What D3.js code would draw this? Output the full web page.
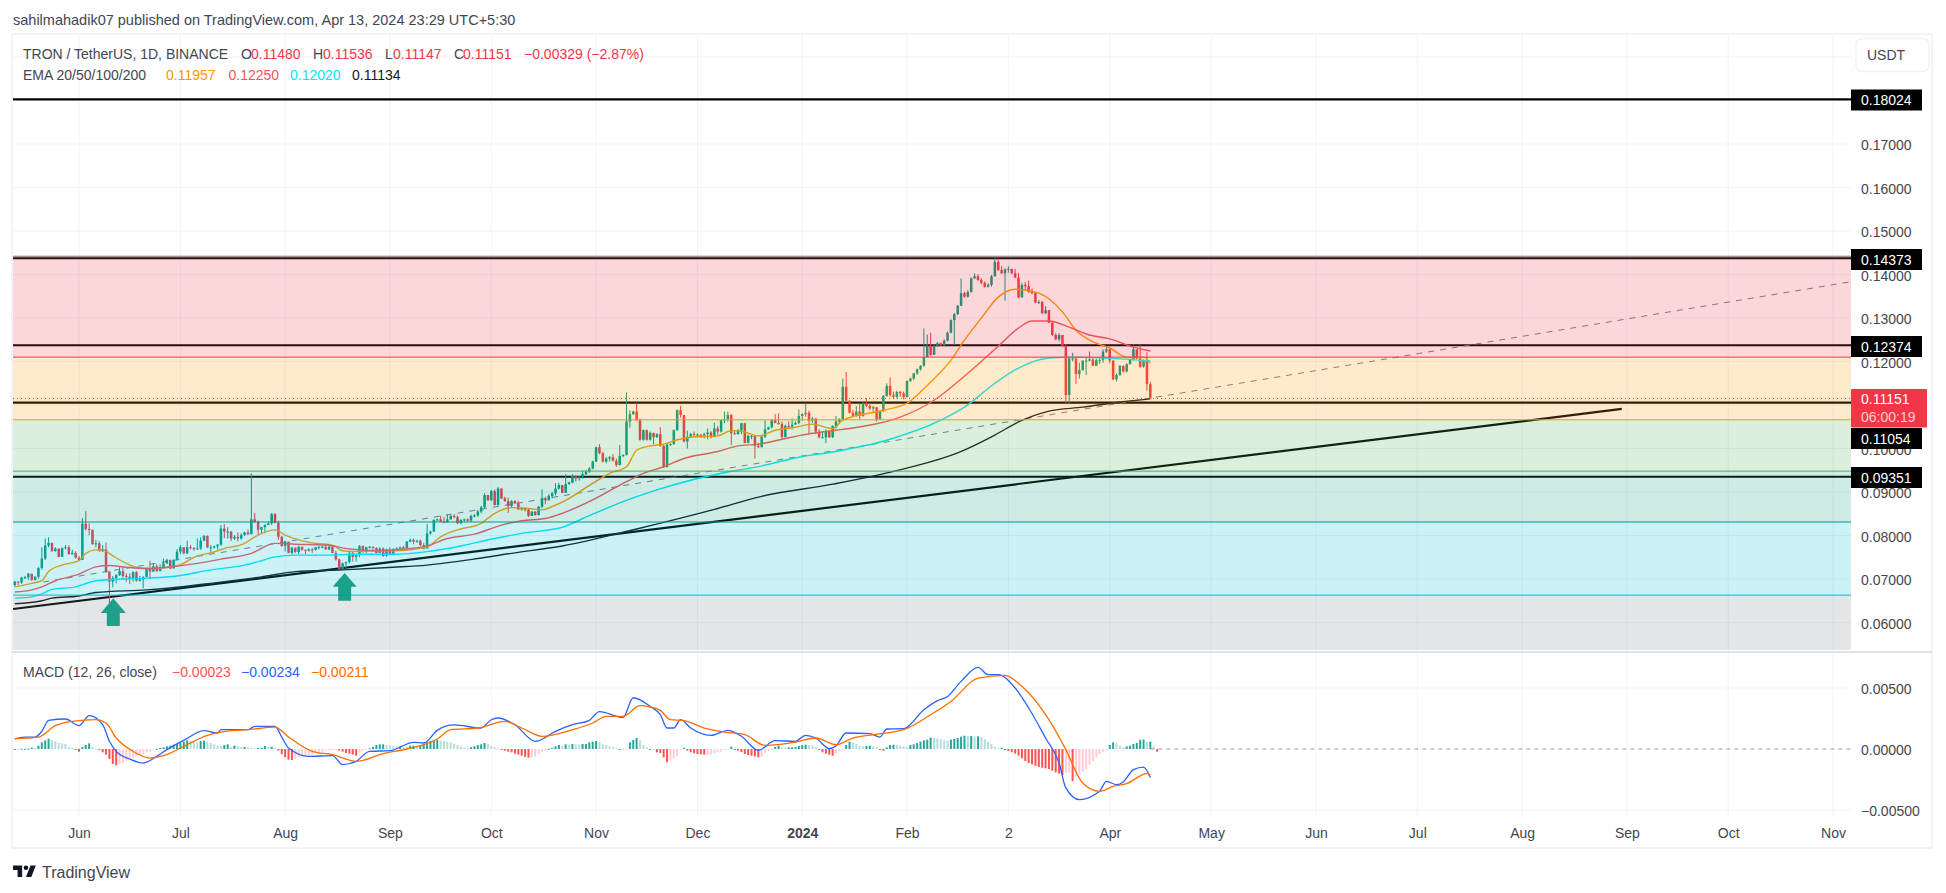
<!DOCTYPE html>
<html>
<head>
<meta charset="utf-8">
<script src="https://cdn.jsdelivr.net/npm/d3@7"></script>
<style>
  html, body { margin: 0; background: #fff; }
  text { font-family: "Liberation Sans", Arial, sans-serif; }
</style>
</head>
<body>
<svg id="chart" width="1946" height="893"></svg>
<script>
const width = 1946, height = 893;
const left = 13, right = 1851;
const mainTop = 35, mainBottom = 651, macdTop = 653, macdBottom = 816;

const green = '#089981', red = '#f23645';

// daily bars, [close, high, low] in 1/100 USDT, first bar is 13 May 2023
// binance opens each day at the previous close
const firstOpen = 6.86;
const bars = [
[6.94,6.96,6.82],[6.92,6.95,6.86],[7.03,7.05,6.89],[7.04,7.07,7.0],[7.12,7.14,6.98],[6.98,7.12,6.96],[7.05,7.07,6.96],[7.25,7.27,7.01],
[7.47,7.73,7.21],[7.77,7.93,7.44],[7.83,7.96,7.73],[7.64,7.84,7.63],[7.7,7.73,7.63],[7.51,7.7,7.5],[7.71,7.73,7.5],[7.73,7.78,7.68],
[7.57,7.78,7.56],[7.6,7.67,7.56],[7.49,7.64,7.47],[7.44,7.53,7.42],[8.27,8.4,7.44],[8.15,8.56,8.11],[8.13,8.28,8.01],[7.8,8.14,7.79],
[7.82,7.9,7.73],[7.64,7.87,7.63],[7.68,7.78,7.62],[7.17,7.84,7.14],[6.94,7.17,6.43],[7.02,7.07,6.81],[7.09,7.11,6.9],[7.18,7.28,7.07],
[7.07,7.27,7.0],[7.05,7.13,6.94],[7.01,7.13,6.89],[7.16,7.18,6.94],[6.96,7.18,6.94],[6.99,7.07,6.94],[7.05,7.06,6.79],[7.24,7.26,7.04],
[7.17,7.42,7.01],[7.29,7.36,7.17],[7.18,7.34,7.17],[7.27,7.34,7.18],[7.36,7.47,7.26],[7.44,7.47,7.35],[7.24,7.44,7.23],[7.44,7.45,7.32],
[7.63,7.69,7.42],[7.73,7.78,7.57],[7.59,7.73,7.57],[7.73,7.88,7.57],[7.71,7.78,7.68],[7.7,7.73,7.65],[7.7,7.93,7.67],[7.88,7.96,7.67],
[7.99,8.01,7.87],[7.73,8.0,7.71],[7.73,7.78,7.6],[7.75,7.77,7.7],[7.79,7.8,7.68],[8.16,8.24,7.76],[8.09,8.26,7.94],[8.09,8.19,7.93],
[7.93,8.1,7.87],[7.97,8.01,7.9],[7.93,8.07,7.86],[8.01,8.05,7.9],[8.07,8.09,7.99],[8.03,8.14,8.01],[8.37,9.43,8.03],[8.32,8.52,8.29],
[8.13,8.34,8.01],[8.19,8.2,8.05],[8.24,8.26,8.05],[8.28,8.32,8.24],
[8.49,8.52,8.24],[8.29,8.52,8.28],[7.97,8.34,7.9],[7.76,7.99,7.74],[7.86,7.87,7.63],[7.6,7.85,7.59],[7.72,7.74,7.57],[7.62,7.72,7.6],
[7.74,7.76,7.57],[7.67,7.74,7.65],[7.65,7.68,7.57],[7.68,7.71,7.63],[7.67,7.72,7.6],[7.73,7.74,7.65],[7.74,7.76,7.68],[7.74,7.77,7.71],
[7.68,7.77,7.67],[7.74,7.78,7.67],[7.6,7.76,7.59],[7.45,7.65,7.42],[7.22,7.47,7.21],[7.36,7.38,7.21],[7.39,7.4,7.25],[7.59,7.65,7.36],
[7.51,7.63,7.4],[7.55,7.57,7.4],[7.76,7.78,7.5],[7.62,7.77,7.6],[7.73,7.74,7.6],[7.74,7.76,7.7],[7.71,7.75,7.67],[7.6,7.73,7.59],
[7.7,7.73,7.63],[7.53,7.73,7.51],[7.68,7.7,7.51],[7.57,7.73,7.56],[7.68,7.71,7.56],[7.7,7.73,7.65],[7.73,7.74,7.67],[7.7,7.76,7.68],
[7.86,7.87,7.7],[7.9,7.93,7.85],[7.86,7.93,7.8],[7.88,7.9,7.83],[7.78,7.91,7.76],[7.7,7.83,7.68],[8.05,8.26,7.73],[8.09,8.11,8.02],
[8.36,8.37,8.08],[8.37,8.39,8.33],[8.32,8.45,8.31],[8.3,8.42,8.28],[8.37,8.48,8.3],[8.45,8.47,8.37],[8.42,8.49,8.4],[8.28,8.46,8.26],
[8.36,8.37,8.26],[8.37,8.39,8.31],[8.34,8.39,8.32],[8.45,8.48,8.31],[8.46,8.49,8.42],[8.55,8.59,8.43],[8.65,8.68,8.51],[8.93,8.97,8.63],
[8.81,8.93,8.8],[9.02,9.05,8.8],[8.7,9.06,8.69],[9.08,9.11,8.69],[8.85,9.08,8.84],[8.79,8.89,8.78],[8.68,8.87,8.52],[8.79,8.81,8.65],
[8.74,8.81,8.72],[8.6,8.8,8.59],[8.63,8.66,8.57],[8.59,8.65,8.55],[8.45,8.62,8.43],[8.55,8.56,8.45],[8.47,8.56,8.46],[8.66,8.68,8.46],
[8.85,9.06,8.63],[8.81,8.89,8.72],[8.91,8.95,8.81],[8.97,9.0,8.85],[9.08,9.2,8.92],[9.16,9.21,9.06],
[8.98,9.16,8.97],[9.18,9.41,8.98],[9.22,9.24,9.17],[9.37,9.41,9.2],[9.31,9.39,9.24],[9.35,9.37,9.26],[9.41,9.49,9.31],[9.47,9.5,9.39],
[9.54,9.57,9.44],[9.7,9.72,9.52],[10.03,10.04,9.69],[9.89,10.1,9.87],[9.7,9.92,9.68],[9.77,9.8,9.66],[9.8,9.83,9.7],[9.72,9.87,9.7],
[9.62,9.77,9.58],[9.83,10.08,9.61],[9.85,9.87,9.8],[10.62,11.29,9.84],[10.79,10.88,10.48],[10.85,10.87,10.77],[10.65,11.04,10.64],[10.2,10.69,10.18],
[10.42,10.44,10.18],[10.2,10.44,10.18],[10.36,10.39,10.18],[10.26,10.36,10.1],[10.33,10.35,10.24],[10.06,10.49,10.04],[9.57,10.08,9.55],[10.09,10.12,9.57],
[10.1,10.12,10.06],[10.42,10.44,10.09],[10.88,10.9,10.41],[10.77,10.98,10.71],[10.16,10.77,10.14],[10.27,10.41,10.0],[10.33,10.36,10.26],[10.31,10.39,10.29],
[10.32,10.35,10.26],[10.3,10.33,10.24],[10.33,10.36,10.23],[10.37,10.46,10.21],[10.26,10.4,10.23],[10.46,10.59,10.33],[10.39,10.52,10.31],[10.65,10.67,10.37],
[10.67,10.85,10.58],[10.77,10.85,10.62],[10.35,10.79,10.08],[10.33,10.42,10.32],[10.42,10.45,10.32],[10.58,10.59,10.33],[10.13,10.59,10.12],[10.29,10.32,10.12],
[10.29,10.31,10.21],[10.06,10.21,9.77],[10.03,10.13,10.01],[10.27,10.29,10.03],[10.44,10.65,10.24],[10.49,10.5,10.43],[10.65,10.68,10.46],[10.59,10.79,10.58],
[10.56,10.81,10.55],[10.26,10.62,10.23],[10.52,10.55,10.26],[10.5,10.62,10.44],[10.55,10.69,10.44],[10.59,10.62,10.56],[10.75,10.9,10.56],[10.79,10.81,10.64],
[10.82,11.04,10.73],[10.64,10.87,10.33],[10.69,10.73,10.59],[10.39,10.69,10.33],[10.26,10.44,10.23],[10.26,10.39,10.23],[10.4,10.44,10.12],[10.26,10.42,10.24],
[10.52,10.53,10.24],[10.62,10.75,10.46],[10.67,10.7,10.58],[11.42,11.61,10.64],[11.1,11.76,11.08],
[10.82,11.1,10.81],[10.75,10.89,10.72],[10.85,10.98,10.73],[10.75,11.02,10.67],[11.04,11.06,10.73],[10.98,11.16,10.95],[10.92,11.05,10.88],[10.95,10.98,10.82],
[10.67,10.95,10.62],[10.86,10.88,10.67],[11.21,11.23,10.84],[11.44,11.5,11.19],[11.23,11.63,11.19],[11.19,11.31,11.15],[11.3,11.33,11.15],[11.27,11.32,11.19],
[11.18,11.31,11.13],[11.55,11.57,11.18],[11.61,11.63,11.53],[11.73,11.74,11.57],[11.82,11.84,11.69],[11.9,11.92,11.79],
[12.1,12.76,11.88],[12.36,12.62,12.1],[12.15,12.66,12.13],[12.36,12.38,12.15],[12.42,12.45,12.33],[12.37,12.43,12.36],[12.48,12.51,12.36],[12.66,12.69,12.46],
[12.95,12.97,12.65],[13.09,13.11,12.38],[13.28,13.3,13.07],[13.57,13.91,13.28],[13.49,13.6,13.47],[13.6,13.64,13.47],[13.91,13.93,13.58],[13.96,14.03,13.9],
[13.87,14.01,13.86],[13.81,13.91,13.78],[13.72,13.84,13.7],[13.76,13.8,13.7],[13.96,13.99,13.72],[14.29,14.39,13.95],[14.1,14.37,14.09],[14.03,14.19,14.01],
[14.12,14.14,13.4],[14.13,14.19,14.04],[14.03,14.12,14.01],[13.93,14.13,13.92],[13.47,14.03,13.45],[13.76,13.81,13.53],[13.73,13.83,13.64],[13.6,13.86,13.58],
[13.57,13.68,13.55],[13.35,13.6,13.34],[13.37,13.41,13.32],[13.11,13.39,13.09],[13.18,13.27,13.09],[12.89,13.18,12.88],[12.61,12.91,12.59],[12.51,12.65,12.49],
[12.61,12.65,12.46],[12.36,12.61,12.33],[11.23,12.4,11.04],[12.07,12.11,11.04],
[12.07,12.2,12.0],[11.71,12.07,11.48],[11.8,11.97,11.61],[12.02,12.03,11.79],[12.02,12.09,11.69],[12.05,12.23,12.0],[11.9,12.07,11.9],[12.03,12.06,11.9],
[12.03,12.07,11.94],[12.23,12.28,11.97],[12.28,12.34,12.2],[12.02,12.3,11.96],[11.59,12.03,11.57],[11.69,11.73,11.54],[11.9,11.92,11.67],[11.77,11.91,11.75],
[11.94,11.96,11.75],[12.05,12.07,11.93],[12.28,12.38,12.02],[12.07,12.28,12.05],[11.88,12.38,11.86],[12.02,12.05,11.86],[11.48,12.21,11.33],[11.151,11.536,11.147]
];

// EMAs, [days from 1 Jun 2023, price in 1/100 USDT]
const ema20 = [[-19,6.82],[-14,6.9],[-11,6.96],[-9,7.17],[-5,7.32],[0,7.42],[2,7.59],[5,7.67],[7,7.67],[10,7.53],[14,7.36],[17,7.27],[21,7.24],[29,7.3],[35,7.53],[39,7.6],[43,7.7],[49,7.82],[52,7.97],[58,8.13],[61,8.01],[65,7.9],[70,7.82],[75,7.78],[78,7.65],[82,7.63],[88,7.65],[93,7.65],[103,7.74],[107,7.97],[112,8.13],[119,8.28],[123,8.51],[128,8.64],[133,8.62],[137,8.59],[141,8.7],[144,8.81],[152,9.2],[157,9.43],[162,9.58],[165,9.96],[169,10.06],[173,10.1],[177,10.2],[181,10.26],[189,10.29],[193,10.41],[197,10.38],[201,10.29],[206,10.42],[212,10.49],[217,10.56],[223,10.46],[226,10.65],[238,10.88],[245,11.04],[251,11.45],[258,12.03],[262,12.49],[267,13.0],[272,13.48],[277,13.66],[284,13.57],[291,13.14],[295,12.72],[301,12.42],[305,12.31],[310,12.1],[315,12.1],[317,11.96]];
const ema50 = [[-19,6.7],[-14,6.75],[-11,6.82],[-7,6.96],[0,7.11],[5,7.28],[9,7.31],[14,7.27],[20,7.24],[27,7.28],[35,7.36],[43,7.47],[51,7.59],[58,7.82],[64,7.8],[73,7.78],[80,7.69],[88,7.65],[98,7.7],[103,7.76],[109,7.93],[117,8.03],[125,8.24],[131,8.34],[138,8.39],[143,8.51],[152,8.82],[162,9.24],[167,9.43],[173,9.58],[179,9.77],[189,9.93],[195,10.06],[201,10.1],[209,10.23],[217,10.35],[224,10.42],[228,10.46],[243,10.72],[253,11.11],[263,11.73],[272,12.35],[278,12.77],[282,12.93],[287,12.93],[292,12.82],[299,12.61],[305,12.52],[312,12.33],[317,12.24]];
const ema100 = [[-19,6.56],[-14,6.59],[-11,6.66],[-8,6.76],[-1,6.82],[5,6.96],[10,6.99],[20,7.02],[29,7.07],[39,7.21],[49,7.32],[54,7.42],[58,7.51],[64,7.55],[73,7.55],[83,7.57],[93,7.57],[103,7.63],[113,7.76],[123,7.93],[131,8.05],[143,8.19],[150,8.42],[160,8.75],[171,9.05],[181,9.27],[192,9.46],[202,9.6],[213,9.8],[223,9.92],[239,10.19],[255,10.65],[262,10.95],[271,11.5],[278,11.85],[287,12.08],[295,12.1],[308,12.06],[317,12.01]];
const ema200 = [[-19,6.43],[-11,6.5],[-8,6.56],[0,6.61],[5,6.69],[20,6.75],[29,6.81],[39,6.9],[54,7.05],[64,7.17],[78,7.21],[93,7.27],[103,7.32],[118,7.47],[128,7.59],[143,7.76],[165,8.15],[188,8.6],[202,8.9],[223,9.18],[245,9.55],[260,9.9],[271,10.31],[278,10.61],[287,10.86],[297,10.95],[308,11.07],[317,11.14]];

// MACD lines, [days from 1 Jun 2023, value in 1e-5]
const macdLine = [[-19,82],[-16,98],[-13,98],[-11,145],[-9,235],[-4,246],[0,191],[3,273],[7,199],[9,63],[11,-19],[15,-82],[19,-115],[23,-60],[26,-5],[31,71],[37,150],[41,131],[42,158],[50,158],[52,186],[58,186],[60,98],[62,8],[68,-60],[75,-55],[78,-128],[82,-101],[86,-19],[92,-14],[99,55],[102,49],[106,153],[111,197],[119,172],[122,240],[124,254],[129,199],[135,63],[141,145],[146,199],[151,235],[154,306],[161,259],[164,420],[169,349],[172,281],[174,172],[176,172],[178,240],[181,172],[187,112],[192,153],[196,104],[201,-11],[206,68],[212,63],[215,112],[218,90],[222,3],[224,27],[227,131],[234,126],[237,98],[239,164],[244,166],[250,322],[254,396],[257,431],[261,554],[266,669],[269,609],[272,609],[277,500],[281,336],[286,90],[290,-115],[292,-319],[296,-415],[302,-347],[304,-265],[307,-292],[309,-270],[312,-169],[315,-148],[317,-234]];
const macdSignal = [[-19,85],[-12,98],[-7,191],[-2,227],[5,240],[8,213],[11,90],[16,-19],[21,-74],[25,-55],[31,22],[38,112],[45,150],[50,158],[58,180],[62,98],[69,-19],[75,-46],[82,-101],[90,-38],[97,0],[106,82],[110,158],[118,172],[126,227],[131,172],[137,104],[146,158],[152,213],[156,268],[161,268],[166,355],[169,344],[172,317],[175,240],[179,232],[185,172],[191,139],[197,117],[203,30],[212,57],[218,90],[224,35],[229,90],[235,117],[244,158],[252,281],[258,390],[266,581],[274,604],[279,514],[287,240],[292,-5],[297,-279],[302,-347],[306,-306],[310,-284],[316,-202],[317,-211]];

const histUnit = 2.73e-5;
const macdHist = [
-1,-1,1,1,1,4,3,10,20,26,31,28,24,19,17,15,6,3,-2,-8,
6,12,17,7,1,-2,-10,-17,-30,-45,-49,-47,-42,-35,-30,-26,-22,-18,-14,-10,-7,-3,1,3,5,8,10,13,15,18,22,26,24,22,20,24,25,22,18,14,10,9,12,14,6,10,8,6,6,5,4,3,3,3,9,7,7,3,
-5,-15,-25,-32,-33,-30,-25,-22,-20,-18,-16,-12,-10,-8,-6,-4,-3,-3,-5,-8,-12,-14,-17,-20,-10,-5,-3,2,6,12,14,14,12,10,9,8,8,7,6,10,10,8,12,15,20,24,25,27,25,24,22,20,16,12,8,4,3,5,8,12,14,18,15,10,5,1,
-2,-5,-8,-10,-14,-17,-20,-24,-26,-26,-24,-15,-8,-4,1,3,8,12,10,14,13,15,14,13,15,15,20,22,24,20,14,12,8,5,3,-3,-2,-2,20,27,33,26,12,5,-3,
-3,-10,-12,-25,-40,-35,-28,-22,-3,4,-5,-10,-13,-15,-16,-17,-17,-16,-13,-10,-8,-4,-2,7,-3,-5,-9,-15,-18,-20,-22,-25,-24,-12,-7,-3,6,10,5,4,5,5,6,9,12,13,12,10,7,-2,-10,-14,-17,-20,-14,-7,-3,12,22,20,15,10,8,9,10,8,5,-3,-5,5,12,13,12,10,8,6,12,14,18,22,26,28,34,33,32,29,26,25,28,30,33,37,40,39,39,38,38,36,30,22,15,7,3,4,-1,
-6,-10,-14,-20,-28,-36,-42,-46,-50,-54,-56,-58,-60,-65,-70,-74,-78,-72,-70,-97,-82,-75,-68,-60,-48,-36,-25,-15,-8,-3,12,20,18,10,5,8,10,15,18,28,28,22,22,8,-8
];

const fibZones = [
  { top: 0.1442, bottom: 0.1210, fill: '#f23645', line: '#787b86' },
  { top: 0.1210, bottom: 0.1066, fill: '#ff9800', line: '#f23645' },
  { top: 0.1066, bottom: 0.0948, fill: '#4caf50', line: '#ff9800' },
  { top: 0.0948, bottom: 0.0831, fill: '#089981', line: '#4caf50' },
  { top: 0.0831, bottom: 0.0663, fill: '#00bcd4', line: '#089981' },
  { top: 0.0663, bottom: 0.0537, fill: '#787b86', line: '#00bcd4' }
];
const levels = [0.18024, 0.14373, 0.12374, 0.11054, 0.09351];

const day0 = Date.UTC(2023, 5, 1);
const dayMs = 86400000;
const dayToDate = d => new Date(day0 + d * dayMs);

const x = d3.scaleUtc().domain([dayToDate(0), new Date(Date.UTC(2024, 10, 1))]).range([79, 1833]);
const y = d3.scaleLinear().domain([0.17, 0.06]).range([144, 622.5]);
const yMacd = d3.scaleLinear().domain([0.005, -0.005]).range([688, 810]);

const svg = d3.select('#chart');

const defs = svg.append('defs');
defs.append('clipPath').attr('id', 'mainClip').append('rect')
  .attr('x', left).attr('y', mainTop).attr('width', right - left).attr('height', mainBottom - mainTop);

// Rahmen
svg.append('rect').attr('x', 12).attr('y', 34).attr('width', 1920).attr('height', 814)
  .attr('fill', 'none').attr('stroke', '#f0f3fa').attr('stroke-width', 2);
svg.append('line').attr('x1', 12).attr('x2', 1932).attr('y1', 652).attr('y2', 652)
  .attr('stroke', '#e0e3eb').attr('stroke-width', 2);

// Grid
const gridColor = '#f0f3fa';
const priceTicks = d3.range(6, 20).map(v => v / 100);
const macdTicks = [0.005, 0, -0.005];
const timeTicks = [
  { d: 0, label: 'Jun' }, { d: 30, label: 'Jul' }, { d: 61, label: 'Aug' }, { d: 92, label: 'Sep' },
  { d: 122, label: 'Oct' }, { d: 153, label: 'Nov' }, { d: 183, label: 'Dec' }, { d: 214, label: '2024', bold: true },
  { d: 245, label: 'Feb' }, { d: 275, label: '2' }, { d: 305, label: 'Apr' }, { d: 335, label: 'May' },
  { d: 366, label: 'Jun' }, { d: 396, label: 'Jul' }, { d: 427, label: 'Aug' }, { d: 458, label: 'Sep' },
  { d: 488, label: 'Oct' }, { d: 519, label: 'Nov' }
];

const grid = svg.append('g');
priceTicks.forEach(p => {
  grid.append('line').attr('x1', left).attr('x2', right).attr('y1', y(p)).attr('y2', y(p)).attr('stroke', gridColor);
});
macdTicks.forEach(v => {
  if (v === 0) return;
  grid.append('line').attr('x1', left).attr('x2', right).attr('y1', yMacd(v)).attr('y2', yMacd(v)).attr('stroke', gridColor);
});
timeTicks.forEach(t => {
  const px = x(dayToDate(t.d));
  grid.append('line').attr('x1', px).attr('x2', px).attr('y1', mainTop).attr('y2', mainBottom).attr('stroke', gridColor);
  grid.append('line').attr('x1', px).attr('x2', px).attr('y1', macdTop).attr('y2', macdBottom).attr('stroke', gridColor);
});

const main = svg.append('g').attr('clip-path', 'url(#mainClip)');

// Levels und Trendlinien
levels.forEach(p => {
  main.append('line').attr('x1', left).attr('x2', right).attr('y1', y(p)).attr('y2', y(p))
    .attr('stroke', '#000').attr('stroke-width', 2.2);
});

main.append('line')
  .attr('x1', x(dayToDate(-19.5))).attr('y1', y(0.0631))
  .attr('x2', x(dayToDate(456.5))).attr('y2', y(0.1091))
  .attr('stroke', '#000').attr('stroke-width', 2.2);

main.append('line')
  .attr('x1', x(dayToDate(-10.6))).attr('y1', y(0.0693))
  .attr('x2', x(dayToDate(524))).attr('y2', y(0.1383))
  .attr('stroke', '#787b86').attr('stroke-width', 1).attr('stroke-dasharray', '6,6');

// Kerzen
let prevClose = firstOpen;
const candles = bars.map((b, i) => {
  const row = { d: i - 19, open: prevClose / 100, close: b[0] / 100, high: b[1] / 100, low: b[2] / 100 };
  prevClose = b[0];
  return row;
});

const candleG = main.append('g');
candles.forEach(c => {
  const px = x(dayToDate(c.d));
  const color = c.close >= c.open ? green : red;
  candleG.append('rect').attr('x', px - 0.5).attr('width', 1)
    .attr('y', y(c.high)).attr('height', y(c.low) - y(c.high)).attr('fill', color);
  candleG.append('rect').attr('x', px - 1.25).attr('width', 2.5)
    .attr('y', y(Math.max(c.open, c.close)))
    .attr('height', Math.max(1, Math.abs(y(c.open) - y(c.close))))
    .attr('fill', color);
});

// EMA Linien
const emaLine = d3.line()
  .x(p => x(dayToDate(p[0])))
  .y(p => y(p[1] / 100))
  .curve(d3.curveMonotoneX);

[[ema20, '#ff9800'], [ema50, '#f7525f'], [ema100, '#00e5ff'], [ema200, '#131722']].forEach(([data, color]) => {
  main.append('path').attr('d', emaLine(data)).attr('fill', 'none').attr('stroke', color).attr('stroke-width', 1.4);
});

// Fib-Zonen liegen halbtransparent ueber allem
fibZones.forEach(z => {
  main.append('rect').attr('x', left).attr('width', right - left)
    .attr('y', y(z.top)).attr('height', y(z.bottom) - y(z.top))
    .attr('fill', z.fill).attr('fill-opacity', 0.2);
  main.append('line').attr('x1', left).attr('x2', right).attr('y1', y(z.top)).attr('y2', y(z.top))
    .attr('stroke', z.line).attr('stroke-width', 1);
});

// aktueller Kurs
main.append('line').attr('x1', left).attr('x2', right).attr('y1', y(0.11151)).attr('y2', y(0.11151))
  .attr('stroke', red).attr('stroke-width', 1).attr('stroke-dasharray', '1,3');

// Pfeile
const arrows = [
  { d: 10.15, tip: 0.0656, head: 0.0622, foot: 0.0592, color: '#089981', half: 12.5, stem: 6.5 },
  { d: 78.6, tip: 0.0714, head: 0.0682, foot: 0.0650, color: '#089981', half: 12, stem: 6.5 }
];
arrows.forEach(a => {
  const px = x(dayToDate(a.d));
  const pts = [
    [px, y(a.tip)], [px + a.half, y(a.head)], [px + a.stem, y(a.head)], [px + a.stem, y(a.foot)],
    [px - a.stem, y(a.foot)], [px - a.stem, y(a.head)], [px - a.half, y(a.head)]
  ];
  main.append('polygon').attr('points', pts.map(p => p.join(',')).join(' '))
    .attr('fill', a.color).attr('fill-opacity', 0.9);
});

// MACD
const histBars = svg.append('g');
macdHist.forEach((h, i) => {
  const v = h * histUnit;
  const prev = i > 0 ? macdHist[i - 1] * histUnit : 0;
  let color;
  if (v >= 0) color = v >= prev ? '#26a69a' : '#b2dfdb';
  else color = v < prev ? '#ff5252' : '#ffcdd2';
  const px = x(dayToDate(i - 19));
  histBars.append('rect').attr('x', px - 1).attr('width', 2)
    .attr('y', Math.min(yMacd(v), yMacd(0)))
    .attr('height', Math.max(1, Math.abs(yMacd(v) - yMacd(0))))
    .attr('fill', color);
});

svg.append('line')
  .attr('x1', x(dayToDate(317))).attr('x2', right).attr('y1', yMacd(0)).attr('y2', yMacd(0))
  .attr('stroke', '#9598a1').attr('stroke-dasharray', '4,4');

const macdPath = d3.line()
  .x(p => x(dayToDate(p[0])))
  .y(p => yMacd(p[1] / 100000))
  .curve(d3.curveMonotoneX);
svg.append('path').attr('d', macdPath(macdLine)).attr('fill', 'none').attr('stroke', '#2962ff').attr('stroke-width', 1.3);
svg.append('path').attr('d', macdPath(macdSignal)).attr('fill', 'none').attr('stroke', '#ff6d00').attr('stroke-width', 1.3);

// Achsen
const textColor = '#434651';
const fmt = v => d3.format('.5f')(v).replace('-', '\u2212');

// 0.11 liegt im Original ganz hinter dem roten Label, also keine Beschriftung
const yLabels = [0.06, 0.07, 0.08, 0.09, 0.10, 0.12, 0.13, 0.14, 0.15, 0.16, 0.17];
const yAxis = d3.axisRight(y).tickValues(yLabels).tickSize(0).tickPadding(10).tickFormat(fmt);
const gy = svg.append('g').attr('transform', `translate(${right},1.5)`).call(yAxis);
gy.select('.domain').remove();

const macdAxis = d3.axisRight(yMacd).tickValues(macdTicks).tickSize(0).tickPadding(10).tickFormat(fmt);
const gm = svg.append('g').attr('transform', `translate(${right},1.5)`).call(macdAxis);
gm.select('.domain').remove();

const xAxis = d3.axisBottom(x).tickValues(timeTicks.map(t => dayToDate(t.d))).tickSize(0).tickPadding(10)
  .tickFormat((t, i) => timeTicks[i].label);
const gx = svg.append('g').attr('transform', 'translate(0,818)').call(xAxis);
gx.select('.domain').remove();
gx.selectAll('text').attr('font-weight', (t, i) => timeTicks[i].bold ? 'bold' : null);

[gy, gm, gx].forEach(g => {
  g.selectAll('text').style('font-family', '"Liberation Sans", Arial, sans-serif').attr('font-size', 14).attr('fill', textColor);
});

// Preis-Labels
const labelRows = [
  { p: 0.18024, cy: 100 }, { p: 0.14373, cy: 259.5 }, { p: 0.12374, cy: 346.5 },
  { p: 0.11054, cy: 438.5 }, { p: 0.09351, cy: 477.5 }
];
labelRows.forEach(l => {
  svg.append('rect').attr('x', right).attr('y', l.cy - 10.5).attr('width', 71).attr('height', 21).attr('fill', '#000');
  svg.append('text').attr('x', right + 10).attr('y', l.cy + 5).attr('fill', '#fff').attr('font-size', 14)
    .text(d3.format('.5f')(l.p));
});
svg.append('rect').attr('x', right).attr('y', 389).attr('width', 76).attr('height', 38.5).attr('fill', red).attr('rx', 1);
svg.append('text').attr('x', right + 10).attr('y', 404).attr('fill', '#fff').attr('font-size', 14).text('0.11151');
svg.append('text').attr('x', right + 10).attr('y', 422).attr('fill', '#fccbcd').attr('font-size', 14).text('06:00:19');

svg.append('rect').attr('x', 1856).attr('y', 38.5).attr('width', 73).attr('height', 33).attr('rx', 6)
  .attr('fill', '#fff').attr('stroke', '#f0f3fa').attr('stroke-width', 1.5);
svg.append('text').attr('x', 1867).attr('y', 60).attr('fill', textColor).attr('font-size', 14).text('USDT');

// Texte
const putText = (tx, ty, str, color, size) => svg.append('text')
  .attr('x', tx).attr('y', ty).attr('fill', color).attr('font-size', size || 14).text(str);

putText(13, 25, 'sahilmahadik07 published on TradingView.com, Apr 13, 2024 23:29 UTC+5:30', '#434651', 14.5);

const legendTitle = '#434651';
putText(23, 59, 'TRON / TetherUS, 1D, BINANCE', legendTitle);
[[241, 'O', legendTitle], [251, '0.11480', red], [313, 'H', legendTitle], [323, '0.11536', red],
 [385, 'L', legendTitle], [393, '0.11147', red], [454, 'C', legendTitle], [463, '0.11151', red],
 [524, '\u22120.00329 (\u22122.87%)', red]].forEach(([tx, s, c]) => putText(tx, 59, s, c));

putText(23, 80, 'EMA 20/50/100/200', legendTitle);
[[166, '0.11957', '#ff9800'], [228.5, '0.12250', '#f7525f'], [290, '0.12020', '#00e5ff'], [352, '0.11134', '#131722']]
  .forEach(([tx, s, c]) => putText(tx, 80, s, c));

putText(23, 677, 'MACD (12, 26, close)', legendTitle);
[[172, '\u22120.00023', '#ff5252'], [241, '\u22120.00234', '#2962ff'], [311, '\u22120.00211', '#ff6d00']]
  .forEach(([tx, s, c]) => putText(tx, 677, s, c));

// Logo
svg.append('path')
  .attr('d', 'M14 6H2v6h6v9h6V6Zm12 15h-7l6-15h7l-6 15Zm-7-9a3 3 0 1 0 0-6 3 3 0 0 0 0 6Z')
  .attr('transform', 'translate(11.5,861) scale(0.76)')
  .attr('fill', '#131722');
putText(42, 878, 'TradingView', '#434651', 16);
</script>
</body>
</html>
